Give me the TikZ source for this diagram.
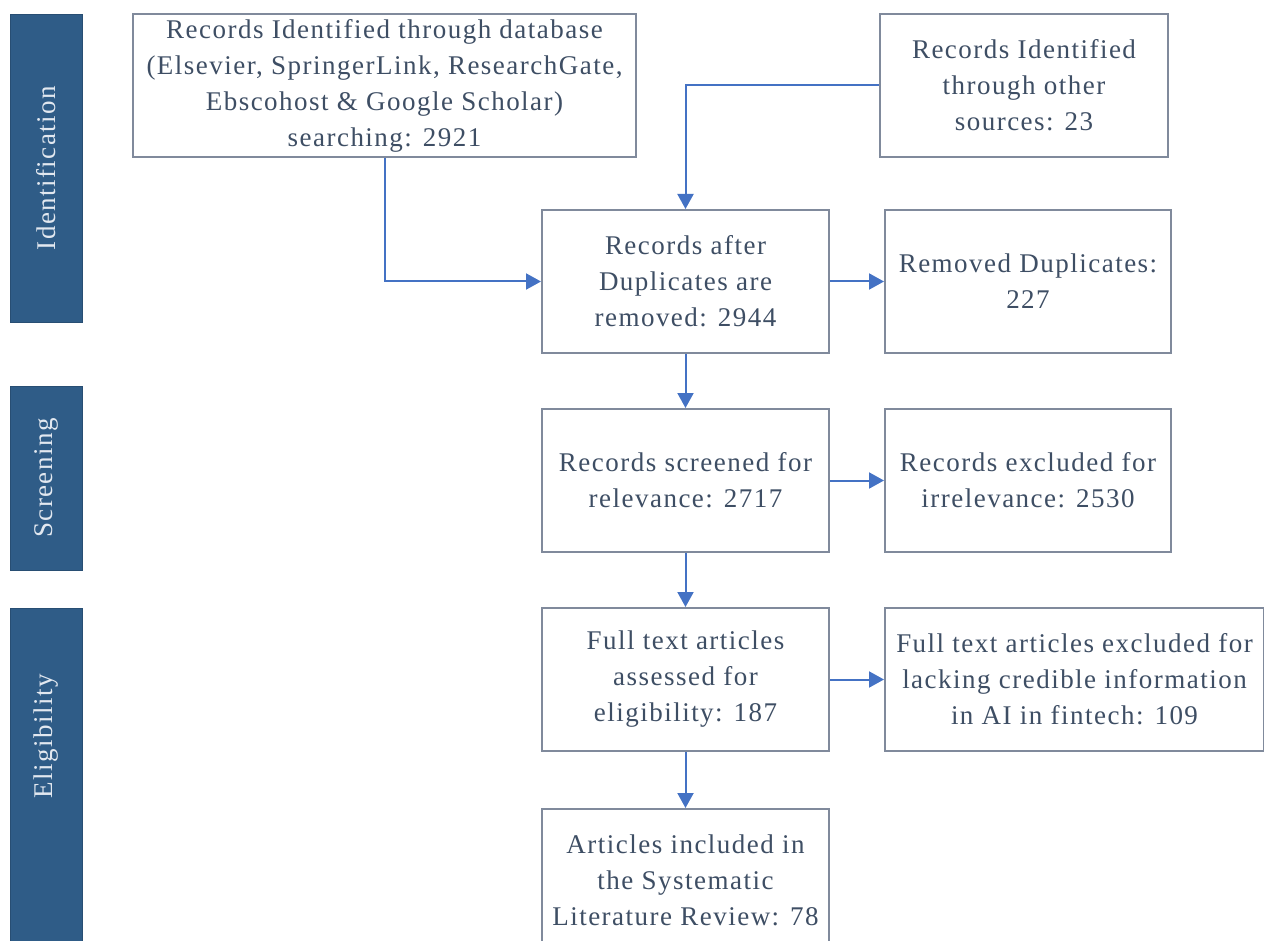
\documentclass[tikz,border=0pt]{standalone}
\usepackage{fontspec}
\setmainfont[LetterSpace=5.5]{Liberation Serif}
\usepackage{amsmath}
\usetikzlibrary{shapes,arrows,arrows.meta,positioning}
\definecolor{barblue}{RGB}{47,92,135}
\definecolor{bartext}{RGB}{226,232,240}
\definecolor{boxline}{RGB}{128,138,156}
\definecolor{boxtext}{RGB}{62,78,100}
\definecolor{linkblue}{RGB}{68,114,196}
\tikzset{
	stage/.style={draw=boxline, line width=1pt, fill=white, text=boxtext, align=center, inner sep=0pt, minimum height=71.5pt, font=\fontsize{13.5}{18}\selectfont},
	phase/.style={fill=barblue, draw=barblue!85!black, rotate=90, minimum height=36pt, inner sep=0pt, text=bartext, font=\fontsize{13.5}{15}\selectfont},
	phasetext/.style={rotate=90, inner sep=0pt, text=bartext, font=\fontsize{13.5}{15}\selectfont},
	link/.style={draw=linkblue, line width=1pt, -{Triangle[length=7.5pt,width=8pt]}}
}
\begin{document}
\begin{tikzpicture}[x=0.5pt,y=-0.5pt,node distance=27pt]
\path[use as bounding box, fill=white] (0,0) rectangle (1264,941);
\clip (0,0) rectangle (1264,941);
% phases
	\node  [phase,minimum width=154pt](ident) at (46,168) {Identification};
	\node  [phase,minimum width=92pt](screen) at (46,478) {Screening};
	\node  [phase,minimum width=180pt](elig) at (46,788) {};
	\node  [phasetext](eligtext) at (46,736) {Eligibility};
% boxes
	\node  [stage,minimum width=251.5pt](B1) at (384.5,85.5) {Records Identified through database\\(Elsevier, SpringerLink, ResearchGate,\\Ebscohost \& Google Scholar)\\searching: 2921};
	\node  [stage,minimum width=144pt,right=121pt of B1](B2) {Records Identified\\through other\\sources: 23};
	\node  [stage,minimum width=143.5pt](B3) at (685.5,281.5) {Records after\\Duplicates are\\removed: 2944};
	\node  [stage,minimum width=143pt,right=of B3](B4) {Removed Duplicates:\\227};
	\node  [stage,minimum width=143.5pt,below=of B3](B5) {Records screened for\\relevance: 2717};
	\node  [stage,minimum width=143pt,right=of B5](B6) {Records excluded for\\irrelevance: 2530};
	\node  [stage,minimum width=143.5pt,below=of B5](B7) {Full text articles\\assessed for\\eligibility: 187};
	\node  [stage,minimum width=189.5pt,right=of B7](B8) {Full text articles excluded for\\lacking credible information\\in AI in fintech: 109};
	\node  [stage,minimum width=143.5pt,below=28pt of B7](B9) {Articles included in\\the Systematic\\Literature Review: 78};
% arrows
\draw [link] (B1.south) |- (B3.west);
\draw [link] (B2.west) -| (B3.north);
\draw [link] (B3) -- (B4);
\draw [link] (B3) -- (B5);
\draw [link] (B5) -- (B6);
\draw [link] (B5) -- (B7);
\draw [link] (B7) -- (B8);
\draw [link] (B7) -- (B9);
\end{tikzpicture}
\end{document}
